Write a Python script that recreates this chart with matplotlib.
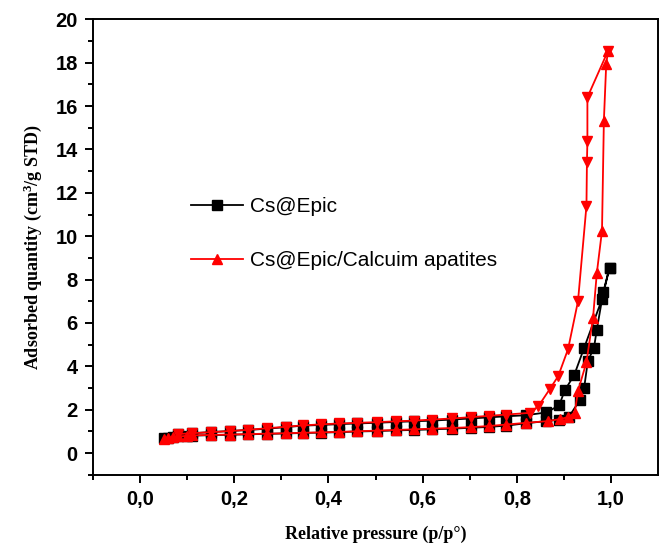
import matplotlib.pyplot as plt
from matplotlib.lines import Line2D

# Cs@Epic - adsorption branch (p/p0, quantity)
p_cs_ads = [0.05, 0.06, 0.07, 0.08, 0.10, 0.11, 0.15, 0.19, 0.23, 0.27, 0.31, 0.345,
            0.385, 0.423, 0.461, 0.503, 0.543, 0.581, 0.62, 0.662, 0.702, 0.74, 0.778,
            0.82, 0.863, 0.89, 0.91, 0.934, 0.943, 0.951, 0.964, 0.970, 0.984, 0.997]
q_cs_ads = [0.68, 0.72, 0.75, 0.77, 0.80, 0.81, 0.83, 0.85, 0.87, 0.89, 0.91, 0.93,
            0.95, 0.97, 1.00, 1.02, 1.05, 1.07, 1.10, 1.13, 1.17, 1.21, 1.27,
            1.38, 1.48, 1.55, 1.65, 2.45, 3.0, 4.25, 4.86, 5.7, 7.45, 8.55]
# Cs@Epic - desorption branch
p_cs_des = [0.997, 0.981, 0.943, 0.922, 0.902, 0.89, 0.863, 0.82, 0.778, 0.74, 0.702,
            0.662, 0.62, 0.581, 0.543, 0.503, 0.461, 0.423, 0.385, 0.345, 0.31, 0.27,
            0.23, 0.19, 0.15, 0.11, 0.08]
q_cs_des = [8.55, 7.1, 4.85, 3.6, 2.9, 2.2, 1.88, 1.75, 1.7, 1.65, 1.6,
            1.55, 1.5, 1.47, 1.44, 1.4, 1.37, 1.34, 1.3, 1.27, 1.2, 1.13,
            1.07, 1.02, 0.97, 0.92, 0.88]

# Cs@Epic/Calcuim apatites - adsorption branch
p_ca_ads = [0.05, 0.06, 0.07, 0.08, 0.10, 0.11, 0.15, 0.19, 0.23, 0.27, 0.31, 0.345,
            0.385, 0.423, 0.461, 0.503, 0.543, 0.581, 0.62, 0.662, 0.702, 0.74, 0.778,
            0.82, 0.867, 0.891, 0.909, 0.923, 0.93, 0.948, 0.962, 0.970, 0.981,
            0.985, 0.99, 0.994]
q_ca_ads = [0.66, 0.71, 0.74, 0.77, 0.80, 0.82, 0.84, 0.86, 0.88, 0.90, 0.92, 0.94,
            0.96, 0.98, 1.01, 1.04, 1.07, 1.10, 1.13, 1.16, 1.20, 1.25, 1.32,
            1.40, 1.48, 1.57, 1.66, 1.86, 2.86, 4.2, 6.25, 8.3, 10.25,
            15.33, 17.95, 18.55]
# Cs@Epic/Calcuim apatites - desorption branch
p_ca_des = [0.994, 0.950, 0.950, 0.949, 0.948, 0.93, 0.909, 0.888, 0.87, 0.846, 0.828,
            0.778, 0.74, 0.702, 0.662, 0.62, 0.581, 0.543, 0.503, 0.461, 0.423, 0.385,
            0.345, 0.31, 0.27, 0.23, 0.19, 0.15, 0.11, 0.08]
q_ca_des = [18.55, 16.4, 14.4, 13.4, 11.4, 7.0, 4.8, 3.55, 2.95, 2.17, 1.86,
            1.78, 1.72, 1.66, 1.6, 1.55, 1.5, 1.47, 1.43, 1.4, 1.37, 1.33,
            1.28, 1.22, 1.15, 1.08, 1.02, 0.97, 0.92, 0.88]

x_ticks = [0.0, 0.2, 0.4, 0.6, 0.8, 1.0]
x_labels = ["0,0", "0,2", "0,4", "0,6", "0,8", "1,0"]
y_ticks = list(range(0, 21, 2))

labels = ["Cs@Epic", "Cs@Epic/Calcuim apatites"]

plt.rcParams['font.family'] = 'Liberation Sans'
plt.rcParams['mathtext.fontset'] = 'custom'
plt.rcParams['mathtext.rm'] = 'Liberation Serif'
plt.rcParams['mathtext.bf'] = 'Liberation Serif:bold'

fig = plt.figure(figsize=(6.6, 5.49), dpi=100)
ax = fig.add_axes([0.141, 0.135, 0.856, 0.83])

# black isotherm (ads + des in one line)
ax.plot(p_cs_ads + p_cs_des, q_cs_ads + q_cs_des, color='black', lw=1.3,
        marker='s', ms=6.5, zorder=2)
# red isotherm
ax.plot(p_ca_ads, q_ca_ads, color='red', lw=1.3, marker='^', ms=7.5, zorder=3)
ax.plot(p_ca_des, q_ca_des, color='red', lw=1.3, marker='v', ms=7.5, zorder=3)

ax.set_xlim(-0.1, 1.1)
ax.set_ylim(-1, 20)
ax.set_xticks(x_ticks)
ax.set_xticklabels(x_labels)
ax.set_xticks([-0.1, 0.1, 0.3, 0.5, 0.7, 0.9], minor=True)
ax.set_yticks(y_ticks)
ax.set_yticks(list(range(-1, 20, 2)), minor=True)

for s in ax.spines.values():
    s.set_linewidth(1.4)
ax.tick_params(which='major', direction='out', length=6, width=1.4,
               labelsize=14.5, pad=5)
ax.tick_params(which='minor', direction='out', length=3.5, width=1.4)
for t in ax.get_xticklabels() + ax.get_yticklabels():
    t.set_fontweight('bold')

ax.set_xlabel("Relative pressure (p/p\u00b0)", family='Liberation Serif',
              fontweight='bold', fontsize=13, labelpad=12)
ax.set_ylabel(r"Adsorbed quantity (cm$\mathbf{^{3}}$/g STD)", family='Liberation Serif',
              fontweight='bold', fontsize=13, labelpad=8)

handles = [Line2D([], [], color='black', lw=1.3, marker='s', ms=6.5),
           Line2D([], [], color='red', lw=1.3, marker='^', ms=7.5)]
ax.legend(handles, labels, loc='upper left', bbox_to_anchor=(0.274, 0.66),
          bbox_transform=fig.transFigure, frameon=False, fontsize=15,
          handlelength=2.5, handletextpad=0.3, labelspacing=1.7,
          borderpad=0, numpoints=1)

fig.savefig("out.png", dpi=100)
